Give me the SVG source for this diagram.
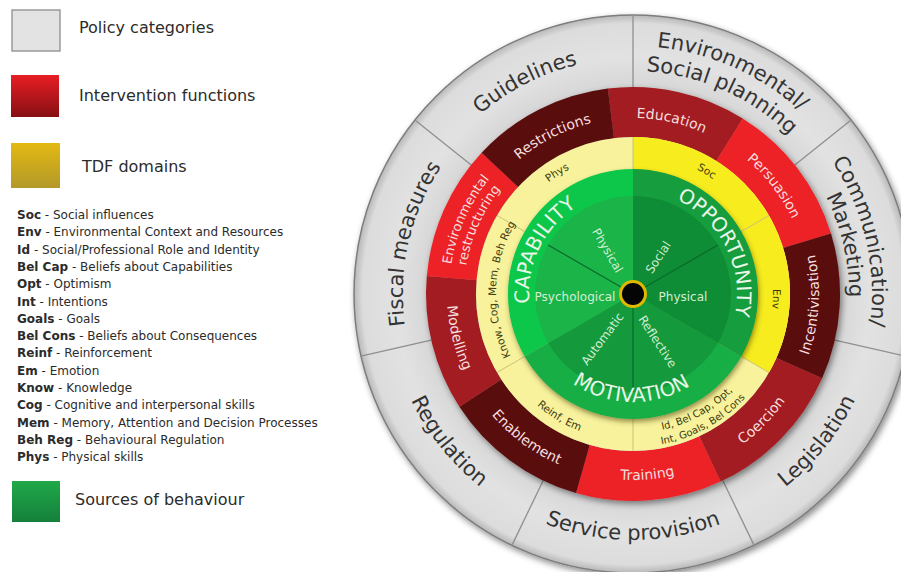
<svg xmlns="http://www.w3.org/2000/svg" width="901" height="572" viewBox="0 0 901 572">
<defs>
<style>
text{font-family:"DejaVu Sans","Liberation Sans",sans-serif}
.leg{font-size:16px;fill:#2b2b2b}
.abbr{font-size:12px;fill:#2b2b2b}
.b{font-weight:bold}
.pol{font-size:21px;fill:#333}
.int{font-size:14px;fill:#f6dede}
.int2{font-size:13px;fill:#f6dede}
.tdf{font-size:10.5px;fill:#3d3a10}
.tdf2{font-size:10px;fill:#3d3a10}
.src{font-size:20px;fill:#e8f6e8}
.sub{font-size:12px;fill:#d2eed2}
.div{stroke:#8f8f8f;stroke-width:1.3}
.ydiv{stroke:#c9c27a;stroke-width:1}
.gdiv{stroke:#0a6a28;stroke-width:1.2}
.dk{fill:#5a0d0e}.md{fill:#a31b21}.br{fill:#ec2227}
</style>
<linearGradient id="lgRed" x1="0" y1="0" x2="0" y2="1"><stop offset="0" stop-color="#e81e23"/><stop offset="1" stop-color="#851014"/></linearGradient>
<linearGradient id="lgYel" x1="0" y1="0" x2="0" y2="1"><stop offset="0" stop-color="#e3b912"/><stop offset="1" stop-color="#b3992a"/></linearGradient>
<linearGradient id="lgGrn" x1="0" y1="0" x2="0" y2="1"><stop offset="0" stop-color="#20a849"/><stop offset="1" stop-color="#15803b"/></linearGradient>
<radialGradient id="rgGrey" cx="0" cy="0" r="279" gradientUnits="userSpaceOnUse"><stop offset="0.74" stop-color="#d6d6d6"/><stop offset="0.85" stop-color="#e2e2e2"/><stop offset="0.97" stop-color="#dcdcdc"/><stop offset="1" stop-color="#b8b8b8"/></radialGradient>
<filter id="sh" x="-20%" y="-20%" width="140%" height="140%"><feDropShadow dx="2" dy="3" stdDeviation="3" flood-color="#000" flood-opacity="0.45"/></filter>
<filter id="sh2" x="-20%" y="-20%" width="140%" height="140%"><feDropShadow dx="1" dy="3" stdDeviation="2.5" flood-color="#3a3000" flood-opacity="0.5"/></filter>
<path id="pGuide" d="M-235.7,-12.3 A236,236 0 0 1 128.5,-197.9"/>
<path id="pEnv1" d="M-145.8,-200.6 A248,248 0 0 1 246.6,-25.9"/>
<path id="pEnv2" d="M-131.1,-180.4 A223,223 0 0 1 221.8,-23.3"/>
<path id="pCom1" d="M69.9,-228.6 A239,239 0 0 1 163.0,174.8"/>
<path id="pCom2" d="M63.2,-206.6 A216,216 0 0 1 147.3,158.0"/>
<path id="pLeg" d="M-36.8,243.2 A246,246 0 0 0 229.1,-89.8"/>
<path id="pServ" d="M-213.0,123 A246,246 0 0 0 213.0,123"/>
<path id="pReg" d="M-229.1,-89.8 A246,246 0 0 0 36.8,243.2"/>
<path id="pFisc" d="M-156.8,168.7 A230,230 0 0 1 -67.6,-219.8"/>
<path id="iRes" d="M-162.0,-68.8 A176,176 0 0 1 39.6,-171.5"/>
<path id="iEdu" d="M-81.3,-156.1 A176,176 0 0 1 139.6,-107.1"/>
<path id="iPer" d="M38.1,-171.8 A176,176 0 0 1 175.8,7.7"/>
<path id="iEnv1" d="M-176.9,50.7 A184,184 0 0 1 -80.7,-165.4"/>
<path id="iEnv2" d="M-162.5,46.6 A169,169 0 0 1 -74.1,-151.9"/>
<path id="iInc" d="M134.9,128.0 A186,186 0 0 0 149.5,-110.6"/>
<path id="iCoe" d="M17.8,185.1 A186,186 0 0 0 185.4,14.6"/>
<path id="iTra" d="M-108.0,151.4 A186,186 0 0 0 130.4,132.7"/>
<path id="iEna" d="M-180.9,43.4 A186,186 0 0 0 11.3,185.6"/>
<path id="iMod" d="M-167.2,-81.5 A186,186 0 0 0 -109.3,150.5"/>
<path id="tPhys" d="M-123.6,-65.7 A140,140 0 0 1 -4.9,-139.9"/>
<path id="tSoc" d="M2.4,-140.0 A140,140 0 0 1 122.4,-67.9"/>
<path id="tEnv" d="M123.6,-65.7 A140,140 0 0 1 118.7,74.2"/>
<path id="tKnow" d="M-108.0,84.4 A137,137 0 0 1 -101.8,-91.7"/>
<path id="tReinf" d="M-139.0,47.9 A147,147 0 0 0 23.0,145.2"/>
<path id="tId1" d="M-26.5,136.4 A139,139 0 0 0 129.8,49.8"/>
<path id="tId2" d="M-29.2,150.2 A153,153 0 0 0 142.8,54.8"/>
<path id="sCap" d="M-86.2,58.2 A104,104 0 0 1 -7.3,-103.8"/>
<path id="sOpp" d="M6.3,-103.8 A104,104 0 0 1 86.7,57.4"/>
<path id="sMot" d="M-94.5,52.4 A108,108 0 0 0 92.6,55.6"/>
</defs>

<rect width="901" height="572" fill="#ffffff"/>

<g id="legend">
  <g id="legend-policy">
    <rect x="12" y="10" width="48" height="41" fill="#e3e3e3" stroke="#9a9a9a" stroke-width="1.5"/>
    <text class="leg" x="79" y="33">Policy categories</text>
  </g>
  <g id="legend-intervention">
    <rect x="11" y="75" width="48" height="42" fill="url(#lgRed)"/>
    <text class="leg" x="79" y="101">Intervention functions</text>
  </g>
  <g id="legend-tdf">
    <rect x="11" y="143" width="49" height="45" fill="url(#lgYel)"/>
    <text class="leg" x="82" y="172">TDF domains</text>
  </g>
  <g id="legend-abbreviations" class="abbr">
    <text x="17" y="219"><tspan class="b">Soc</tspan> - Social influences</text>
    <text x="17" y="236.3"><tspan class="b">Env</tspan> - Environmental Context and Resources</text>
    <text x="17" y="253.6"><tspan class="b">Id</tspan> - Social/Professional Role and Identity</text>
    <text x="17" y="270.9"><tspan class="b">Bel Cap</tspan> - Beliefs about Capabilities</text>
    <text x="17" y="288.2"><tspan class="b">Opt</tspan> - Optimism</text>
    <text x="17" y="305.5"><tspan class="b">Int</tspan> - Intentions</text>
    <text x="17" y="322.7"><tspan class="b">Goals</tspan> - Goals</text>
    <text x="17" y="340"><tspan class="b">Bel Cons</tspan> - Beliefs about Consequences</text>
    <text x="17" y="357.3"><tspan class="b">Reinf</tspan> - Reinforcement</text>
    <text x="17" y="374.6"><tspan class="b">Em</tspan> - Emotion</text>
    <text x="17" y="391.9"><tspan class="b">Know</tspan> - Knowledge</text>
    <text x="17" y="409.2"><tspan class="b">Cog</tspan> - Cognitive and interpersonal skills</text>
    <text x="17" y="426.5"><tspan class="b">Mem</tspan> - Memory, Attention and Decision Processes</text>
    <text x="17" y="443.8"><tspan class="b">Beh Reg</tspan> - Behavioural Regulation</text>
    <text x="17" y="461"><tspan class="b">Phys</tspan> - Physical skills</text>
  </g>
  <g id="legend-sources">
    <rect x="12" y="481" width="48" height="41" fill="url(#lgGrn)"/>
    <text class="leg" x="75" y="505">Sources of behaviour</text>
  </g>
</g>

<g id="wheel" transform="translate(633,294)">
  <g id="policy-categories">
    <circle r="279" fill="url(#rgGrey)" stroke="#7d7d7d" stroke-width="1.5" filter="url(#sh)"/>
    <g id="policy-dividers">
      <line class="div" x1="0" y1="-207" x2="0" y2="-279"/>
      <line class="div" x1="161.8" y1="-129.1" x2="218.1" y2="-174.0"/>
      <line class="div" x1="201.8" y1="46.1" x2="272.0" y2="62.1"/>
      <line class="div" x1="89.8" y1="186.5" x2="121.1" y2="251.4"/>
      <line class="div" x1="-89.8" y1="186.5" x2="-121.1" y2="251.4"/>
      <line class="div" x1="-201.8" y1="46.1" x2="-272.0" y2="62.1"/>
      <line class="div" x1="-161.8" y1="-129.1" x2="-218.1" y2="-174.0"/>
    </g>
    <g id="policy-guidelines"><text class="pol"><textPath href="#pGuide" startOffset="50%" text-anchor="middle">Guidelines</textPath></text></g>
    <g id="policy-env-social"><text class="pol"><textPath href="#pEnv1" startOffset="50%" text-anchor="middle">Environmental/</textPath></text><text class="pol"><textPath href="#pEnv2" startOffset="50%" text-anchor="middle">Social planning</textPath></text></g>
    <g id="policy-communication"><text class="pol"><textPath href="#pCom1" startOffset="50%" text-anchor="middle">Communication/</textPath></text><text class="pol"><textPath href="#pCom2" startOffset="50%" text-anchor="middle">Marketing</textPath></text></g>
    <g id="policy-legislation"><text class="pol"><textPath href="#pLeg" startOffset="50%" text-anchor="middle">Legislation</textPath></text></g>
    <g id="policy-service"><text class="pol"><textPath href="#pServ" startOffset="50%" text-anchor="middle">Service provision</textPath></text></g>
    <g id="policy-regulation"><text class="pol"><textPath href="#pReg" startOffset="50%" text-anchor="middle">Regulation</textPath></text></g>
    <g id="policy-fiscal"><text class="pol"><textPath href="#pFisc" startOffset="50%" text-anchor="middle">Fiscal measures</textPath></text></g>
  </g>

  <g id="intervention-functions">
    <g filter="url(#sh)">
      <path id="seg-education" class="md" d="M-25.2,-205.4 A207,207 0 0 1 109.7,-175.5 L83.2,-133.1 A157,157 0 0 0 -19.1,-155.8 Z"/>
      <path id="seg-persuasion" class="br" d="M109.7,-175.5 A207,207 0 0 1 198.0,-60.5 L150.1,-45.9 A157,157 0 0 0 83.2,-133.1 Z"/>
      <path id="seg-incentivisation" class="dk" d="M198.0,-60.5 A207,207 0 0 1 189.1,84.2 L143.4,63.9 A157,157 0 0 0 150.1,-45.9 Z"/>
      <path id="seg-coercion" class="md" d="M189.1,84.2 A207,207 0 0 1 87.5,187.6 L66.3,142.3 A157,157 0 0 0 143.4,63.9 Z"/>
      <path id="seg-training" class="br" d="M87.5,187.6 A207,207 0 0 1 -57.0,199.0 L-43.3,150.9 A157,157 0 0 0 66.3,142.3 Z"/>
      <path id="seg-enablement" class="dk" d="M-57.0,199.0 A207,207 0 0 1 -173.6,112.7 L-131.7,85.5 A157,157 0 0 0 -43.3,150.9 Z"/>
      <path id="seg-modelling" class="md" d="M-173.6,112.7 A207,207 0 0 1 -206.2,-18.1 L-156.4,-13.7 A157,157 0 0 0 -131.7,85.5 Z"/>
      <path id="seg-envrestructuring" class="br" d="M-206.2,-18.1 A207,207 0 0 1 -151.4,-141.2 L-114.8,-107.1 A157,157 0 0 0 -156.4,-13.7 Z"/>
      <path id="seg-restrictions" class="dk" d="M-151.4,-141.2 A207,207 0 0 1 -25.2,-205.4 L-19.1,-155.8 A157,157 0 0 0 -114.8,-107.1 Z"/>
    </g>
    <g id="if-restrictions"><text class="int"><textPath href="#iRes" startOffset="50%" text-anchor="middle">Restrictions</textPath></text></g>
    <g id="if-education"><text class="int"><textPath href="#iEdu" startOffset="50%" text-anchor="middle">Education</textPath></text></g>
    <g id="if-persuasion"><text class="int"><textPath href="#iPer" startOffset="50%" text-anchor="middle">Persuasion</textPath></text></g>
    <g id="if-incentivisation"><text class="int"><textPath href="#iInc" startOffset="50%" text-anchor="middle">Incentivisation</textPath></text></g>
    <g id="if-coercion"><text class="int"><textPath href="#iCoe" startOffset="50%" text-anchor="middle">Coercion</textPath></text></g>
    <g id="if-training"><text class="int"><textPath href="#iTra" startOffset="50%" text-anchor="middle">Training</textPath></text></g>
    <g id="if-enablement"><text class="int"><textPath href="#iEna" startOffset="50%" text-anchor="middle">Enablement</textPath></text></g>
    <g id="if-modelling"><text class="int"><textPath href="#iMod" startOffset="50%" text-anchor="middle">Modelling</textPath></text></g>
    <g id="if-envrestructuring"><text class="int2"><textPath href="#iEnv1" startOffset="50%" text-anchor="middle">Environmental</textPath></text><text class="int2"><textPath href="#iEnv2" startOffset="50%" text-anchor="middle">restructuring</textPath></text></g>
  </g>

  <g id="tdf-domains">
    <circle r="157" fill="#f7f29b"/>
    <path d="M0,-157 A157,157 0 0 1 136.0,78.5 L0,0 Z" fill="#f6ec1e"/>
    <line class="ydiv" x1="0" y1="-125" x2="0" y2="-157"/>
    <line class="ydiv" x1="108.3" y1="-62.5" x2="136.0" y2="-78.5"/>
    <line class="ydiv" x1="108.3" y1="62.5" x2="136.0" y2="78.5"/>
    <line class="ydiv" x1="0" y1="125" x2="0" y2="157"/>
    <line class="ydiv" x1="-108.3" y1="62.5" x2="-136.0" y2="78.5"/>
    <line class="ydiv" x1="-108.3" y1="-62.5" x2="-136.0" y2="-78.5"/>
    <g id="tdf-phys"><text class="tdf"><textPath href="#tPhys" startOffset="50%" text-anchor="middle">Phys</textPath></text></g>
    <g id="tdf-soc"><text class="tdf"><textPath href="#tSoc" startOffset="50%" text-anchor="middle">Soc</textPath></text></g>
    <g id="tdf-env"><text class="tdf"><textPath href="#tEnv" startOffset="50%" text-anchor="middle">Env</textPath></text></g>
    <g id="tdf-know"><text class="tdf"><textPath href="#tKnow" startOffset="50%" text-anchor="middle">Know, Cog, Mem, Beh Reg</textPath></text></g>
    <g id="tdf-reinf"><text class="tdf"><textPath href="#tReinf" startOffset="50%" text-anchor="middle">Reinf,  Em</textPath></text></g>
    <g id="tdf-id"><text class="tdf2"><textPath href="#tId1" startOffset="50%" text-anchor="middle">Id, Bel Cap, Opt,</textPath></text><text class="tdf2"><textPath href="#tId2" startOffset="50%" text-anchor="middle">Int, Goals, Bel Cons</textPath></text></g>
  </g>

  <g id="sources-of-behaviour">
    <g filter="url(#sh2)">
      <path d="M0,0 L0,-125 A125,125 0 0 1 108.3,62.5 Z" fill="#139d3e"/>
      <path d="M0,0 L108.3,62.5 A125,125 0 0 1 -108.3,62.5 Z" fill="#18ae44"/>
      <path d="M0,0 L-108.3,62.5 A125,125 0 0 1 0,-125 Z" fill="#0fc74c"/>
    </g>
    <path d="M0,0 L0,-98 A98,98 0 0 1 84.9,49 Z" fill="#0e8c36"/>
    <path d="M0,0 L84.9,49 A98,98 0 0 1 -84.9,49 Z" fill="#14993c"/>
    <path d="M0,0 L-84.9,49 A98,98 0 0 1 0,-98 Z" fill="#1bb449"/>
    <line class="gdiv" x1="0" y1="0" x2="-84.9" y2="-49"/>
    <line class="gdiv" x1="0" y1="0" x2="84.9" y2="-49"/>
    <line class="gdiv" x1="0" y1="0" x2="0" y2="98"/>
    <g id="src-capability"><text class="src"><textPath href="#sCap" startOffset="50%" text-anchor="middle">CAPABILITY</textPath></text></g>
    <g id="src-opportunity"><text class="src"><textPath href="#sOpp" startOffset="50%" text-anchor="middle">OPPORTUNITY</textPath></text></g>
    <g id="src-motivation"><text class="src"><textPath href="#sMot" startOffset="50%" text-anchor="middle">MOTIVATION</textPath></text></g>
    <g id="sub-physical-cap"><text class="sub" transform="translate(-25.5,-43.5) rotate(60)" text-anchor="middle" dominant-baseline="central">Physical</text></g>
    <g id="sub-psychological"><text class="sub" x="-58" y="3" text-anchor="middle" dominant-baseline="central">Psychological</text></g>
    <g id="sub-social"><text class="sub" transform="translate(25.3,-36.5) rotate(-57)" text-anchor="middle" dominant-baseline="central">Social</text></g>
    <g id="sub-physical-opp"><text class="sub" x="50" y="3" text-anchor="middle" dominant-baseline="central">Physical</text></g>
    <g id="sub-automatic"><text class="sub" transform="translate(-30.5,45) rotate(-53)" text-anchor="middle" dominant-baseline="central">Automatic</text></g>
    <g id="sub-reflective"><text class="sub" transform="translate(24.5,47.7) rotate(57)" text-anchor="middle" dominant-baseline="central">Reflective</text></g>
    <g id="centre-dot">
      <circle r="14" fill="#e0b800"/>
      <circle r="11" fill="#050505"/>
    </g>
  </g>
</g>
</svg>
